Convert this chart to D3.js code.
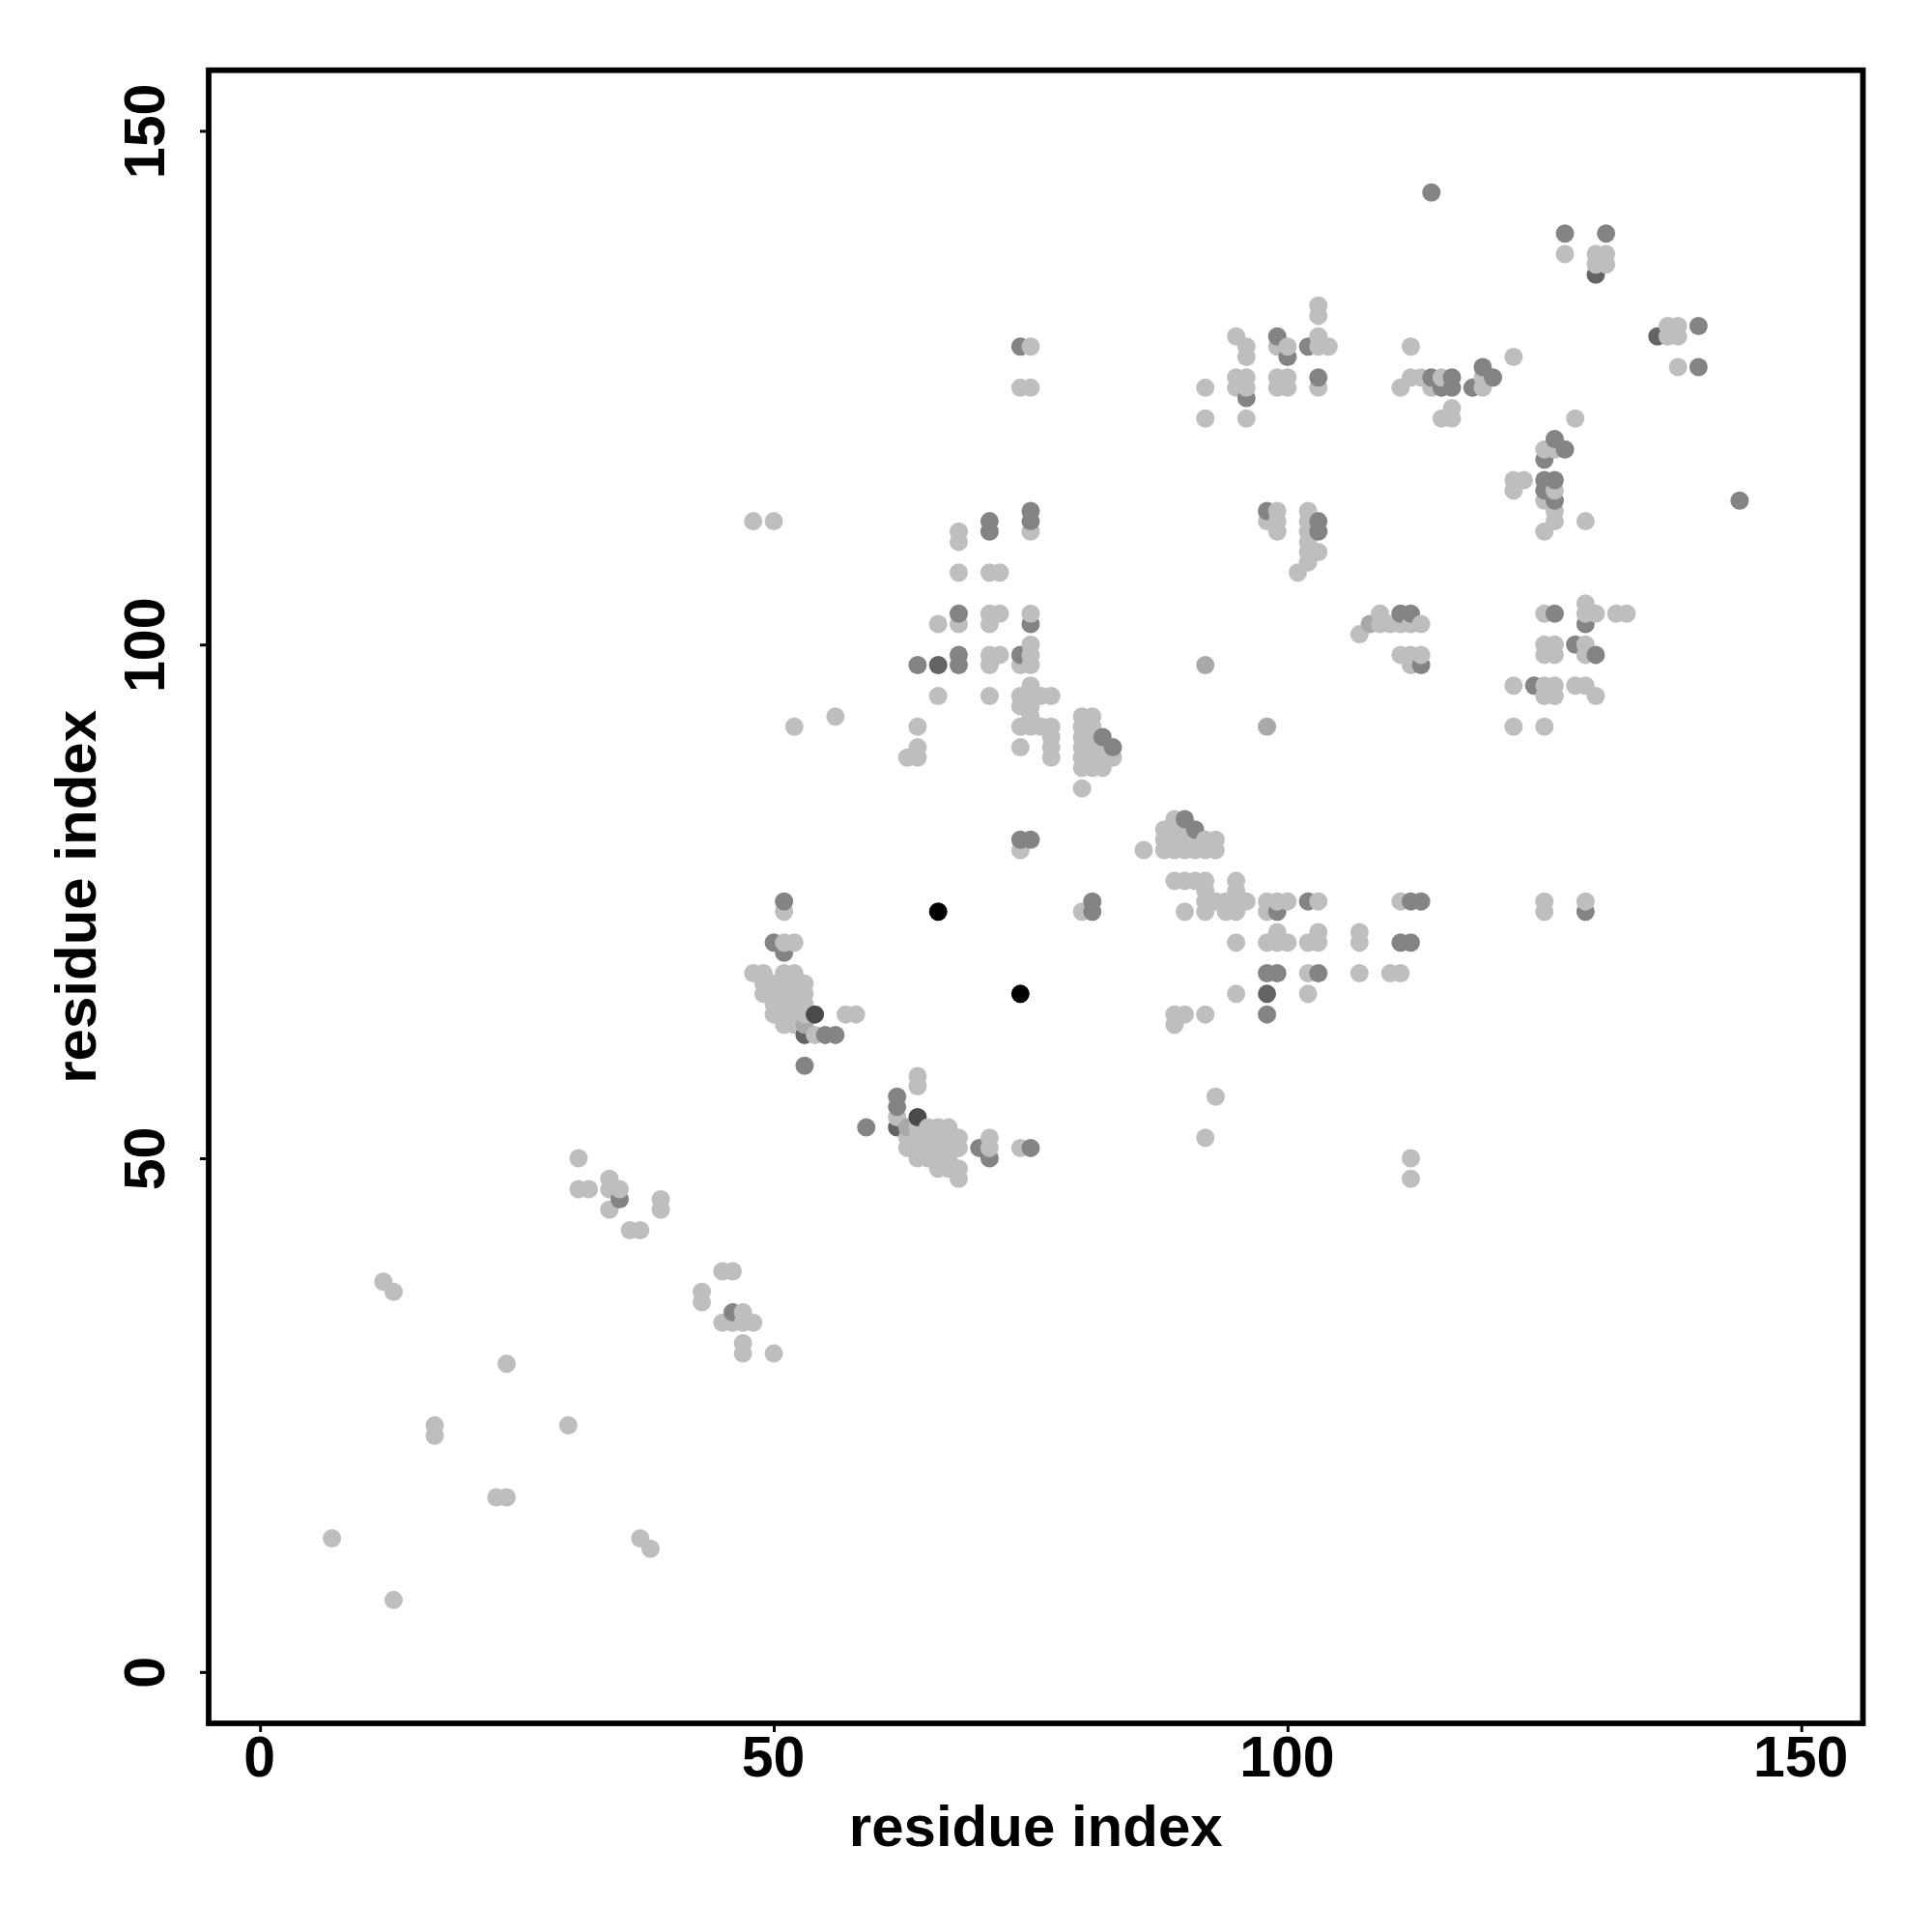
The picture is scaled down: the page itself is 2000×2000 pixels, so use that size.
<!DOCTYPE html>
<html>
<head>
<meta charset="utf-8">
<script src="https://cdnjs.cloudflare.com/ajax/libs/d3/7.8.5/d3.min.js"></script>
<style>
html,body{margin:0;padding:0;background:#fff}
svg{display:block}
text{font-family:"Liberation Sans",Arial,sans-serif;font-weight:bold;fill:#000}
</style>
</head>
<body>
<script>
const xTicks = [0, 50, 100, 150];
const yTicks = [0, 50, 100, 150];
const xLabel = "residue index";
const yLabel = "residue index";

const lightPoints = [
[7,13],[13,7],[12,38],[13,37],[17,24],[17,23],[24,30],[23,17],[24,17],[30,24],[37,13],[38,12],
[31,50],[31,47],[32,47],[34,48],[34,47],[35,47],[34,45],[36,43],[37,43],[39,46],[39,45],
[45,39],[46,39],[43,37],[43,36],[45,34],[47,35],[46,34],[47,34],[48,34],[47,32],[47,31],[50,31],
[51,74],[51,71],[52,71],[48,68],[49,68],[51,68],[52,68],[49,67],[50,67],[51,67],[52,67],[53,67],
[49,66],[50,66],[51,66],[52,66],[53,66],[50,65],[51,65],[52,65],[53,65],[50,64],[51,64],[52,64],[53,64],
[51,63],[52,63],[54,62],[57,64],[58,64],
[64,58],[64,57],[62,54],[64,53],[65,53],[66,53],[67,53],[63,52],[64,52],[65,52],[66,52],[67,52],[68,52],
[63,51],[64,51],[65,51],[66,51],[67,51],[68,51],[64,50],[65,50],[66,50],[67,50],[66,49],[67,49],[68,49],[68,48],
[71,52],[71,51],[74,51],
[75,111],[68,111],[68,110],[68,107],[71,107],[72,107],[68,102],[66,102],[71,103],[72,103],[71,102],[75,103],
[71,99],[72,99],[71,98],[74,98],[75,100],[75,99],[75,98],[66,95],[71,95],[75,96],[74,95],[74,94],[75,95],[75,94],
[76,95],[77,95],[75,93],[74,92],[75,92],[76,92],[77,92],[77,91],[77,90],[77,89],[74,90],[64,92],[64,90],[63,89],[64,89],
[80,93],[81,93],[80,92],[81,92],[80,91],[81,91],[80,90],[81,90],[82,90],[80,89],[81,89],[82,89],[83,89],
[80,88],[81,88],[82,88],[80,86],
[86,80],[89,83],[88,82],[89,82],[90,82],[88,81],[89,81],[90,81],[91,81],[92,81],[93,81],
[88,80],[89,80],[90,80],[91,80],[92,80],[93,80],
[89,77],[90,77],[91,77],[92,77],[95,77],[95,76],[92,76],[92,75],[93,75],[94,75],[95,75],[96,75],[92,74],[94,74],[95,74],[90,74],
[98,75],[99,75],[100,75],[98,74],[103,75],[99,72],[95,71],[98,71],[99,71],[100,71],[103,72],[102,71],[103,71],[107,72],[107,71],
[102,68],[107,68],[110,68],[111,68],[95,66],[102,66],[89,64],[90,64],[92,64],[89,63],
[111,75],[125,75],[125,74],[129,75],
[103,133],[103,132],[95,130],[96,129],[96,128],[99,129],[100,129],[103,130],[103,129],[104,129],
[95,126],[95,125],[96,126],[96,125],[92,125],[92,122],[96,122],[99,126],[100,126],[99,125],[100,125],[103,125],
[112,129],[111,125],[112,126],[113,126],[115,126],[114,125],[119,126],[119,125],[122,128],[115,122],[116,122],[116,123],
[98,112],[99,113],[99,112],[99,111],[102,113],[102,112],[102,111],[102,110],[102,109],[103,109],[102,108],[101,107],
[107,101],[109,103],[109,102],[110,102],[111,102],[112,102],[113,102],[111,99],[112,99],[113,99],[112,98],
[122,116],[123,116],[122,115],[126,115],[125,114],[126,113],[126,112],[125,111],[129,112],
[125,103],[129,104],[129,103],[130,103],[132,103],[133,103],[125,100],[126,100],[125,99],[126,99],[129,100],[129,99],
[122,96],[125,96],[126,96],[125,95],[126,95],[128,96],[129,96],[130,95],[122,92],[125,92],
[125,119],[126,119],[128,122],
[127,138],[130,138],[131,138],[130,137],[131,137],[137,131],[138,131],[137,130],[138,130],[138,127],
[75,129],[74,125],[75,125],[74,80],[80,74],[48,112],[50,112],[52,92],[56,93],[93,56],[92,52],[112,50],[112,48]
];

const paleMidPoints = [[98,92],[92,98],[63,53],[53,63],[108,102]];

const midPoints = [
[35,46],[46,35],[51,75],[50,71],[51,70],[55,62],[56,62],[53,59],[62,56],[62,55],[59,53],[70,51],[71,50],[75,51],
[75,113],[75,112],[71,112],[71,111],[68,103],[75,102],[68,99],[68,98],[64,98],[74,99],[82,91],[83,90],
[90,83],[91,82],[99,74],[102,75],[98,68],[99,68],[103,68],[98,64],[112,75],[113,75],[111,71],[112,71],[129,74],
[99,130],[100,128],[102,129],[96,124],[103,126],[114,126],[116,126],[115,125],[116,125],[119,127],[120,126],[118,125],
[98,113],[103,112],[103,111],[111,103],[112,103],[113,98],
[125,116],[126,116],[125,115],[126,114],[125,118],[126,120],[127,119],
[126,103],[129,102],[128,100],[130,99],[124,96],
[114,144],[127,140],[131,140],[140,131],[140,127],[144,114],[74,129],[74,81],[75,81],[81,75],[81,74]
];

const darkPoints = [[53,62],[62,53],[66,98],[98,66],[130,136],[136,130]];
const darkerPoints = [[54,64],[64,54]];
const blackPoints = [[66,74],[74,66]];

const shades = {light:"#bebebe", paleMid:"#a9a9a9", mid:"#848484", dark:"#646464", darker:"#4a4a4a", black:"#000000"};

const allPoints = [].concat(
  lightPoints.map(p => ({x:p[0], y:p[1], c:shades.light})),
  paleMidPoints.map(p => ({x:p[0], y:p[1], c:shades.paleMid})),
  midPoints.map(p => ({x:p[0], y:p[1], c:shades.mid})),
  darkPoints.map(p => ({x:p[0], y:p[1], c:shades.dark})),
  darkerPoints.map(p => ({x:p[0], y:p[1], c:shades.darker})),
  blackPoints.map(p => ({x:p[0], y:p[1], c:shades.black}))
).sort((a,b) => d3.ascending(a.x,b.x) || d3.ascending(a.y,b.y));

const L=216, R=1928.5, T=72.7, B=1784;
const x = d3.scaleLinear().domain([-5,156]).range([L,R]);
const y = d3.scaleLinear().domain([-5,155.9]).range([B,T]);

const svg = d3.select("body").append("svg").attr("width",2000).attr("height",2000);
svg.append("rect").attr("width",2000).attr("height",2000).attr("fill","#fff");

svg.append("g").selectAll("circle").data(allPoints).join("circle")
  .attr("cx",d=>x(d.x)).attr("cy",d=>y(d.y)).attr("r",9.5).attr("fill",d=>d.c);

const xAxis = svg.append("g").attr("transform",`translate(0,${B})`)
  .call(d3.axisBottom(x).tickValues(xTicks).tickSize(9).tickPadding(0));
xAxis.select(".domain").remove();
xAxis.selectAll("line").attr("stroke","#000").attr("stroke-width",3);
xAxis.selectAll("text").attr("font-size",59).attr("font-family",null).attr("dy",null).attr("y",55).attr("dx",-1);

const yAxis = svg.append("g").attr("transform",`translate(${L},0)`)
  .call(d3.axisLeft(y).tickValues(yTicks).tickSize(9).tickPadding(0));
yAxis.select(".domain").remove();
yAxis.selectAll("line").attr("stroke","#000").attr("stroke-width",3);
yAxis.selectAll("text").attr("font-size",59).attr("font-family",null)
  .attr("dy",null).attr("x",null).attr("y",null)
  .attr("text-anchor","middle").attr("transform","translate(-46,0) rotate(-90)");

svg.append("rect").attr("x",L).attr("y",T).attr("width",R-L).attr("height",B-T)
  .attr("fill","none").attr("stroke","#000").attr("stroke-width",5.8);

svg.append("text").attr("x",(L+R)/2).attr("y",1911).attr("text-anchor","middle").attr("font-size",60).text(xLabel);
svg.append("text").attr("transform",`translate(99,${(T+B)/2}) rotate(-90)`).attr("text-anchor","middle").attr("font-size",60).text(yLabel);
</script>
</body>
</html>
